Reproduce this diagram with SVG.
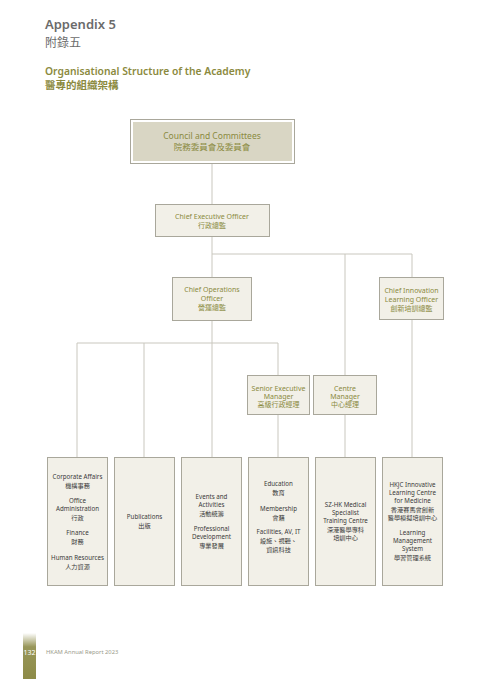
<svg xmlns="http://www.w3.org/2000/svg" width="480" height="679" viewBox="0 0 480 679">
<defs>
<style>
.t{font-family:"Noto Sans","Noto Sans CJK TC",sans-serif;text-anchor:middle}
.h{fill:#8a8a40;font-size:7px}
.b{fill:#3a3a3a;font-size:6.2px}
.box{fill:#f2f0e8;stroke:#a9a79b;stroke-width:1}
.ln{stroke:#c9c7be;stroke-width:1;fill:none}
</style>
<linearGradient id="fb" x1="0" y1="0" x2="0" y2="1">
<stop offset="0" stop-color="#8d8b47" stop-opacity="0"/>
<stop offset="0.3" stop-color="#8d8b47" stop-opacity="0.9"/>
<stop offset="1" stop-color="#8d8b47"/>
</linearGradient>
</defs>
<rect width="480" height="679" fill="#fff"/>
<g id="title">
<text x="45" y="29" font-family="Noto Sans,sans-serif" font-size="13" font-weight="600" fill="#6b6b6b">Appendix 5</text>
<text x="45" y="47" font-family="Noto Sans CJK TC,sans-serif" font-size="12" fill="#6b6b6b">附錄五</text>
<text x="45" y="75" font-family="Noto Sans,sans-serif" font-size="10.3" font-weight="600" fill="#8b8a3e">Organisational Structure of the Academy</text>
<text x="45" y="88.5" font-family="Noto Sans CJK TC,sans-serif" font-size="10.5" font-weight="600" fill="#8b8a3e">醫專的組織架構</text>
</g>
<g id="connectors">
<path class="ln" d="M212 164V204M212 236V277M212 254H412M345 254V375M412 254V277M412 320V457M212 321V457M77 343H278M77 343V457M144 343V457M278 343V375M278 414V457M345 414V457"/>
</g>
<g id="council">
<rect x="130.5" y="119.5" width="164" height="44" fill="#fff" stroke="#a9a79b"/>
<rect x="133" y="122" width="159" height="39" fill="#d9d6c4"/>
<text class="t" x="212" y="139" fill="#8a8a40" font-size="8.5">Council and Committees</text>
<text class="t" x="212" y="150" fill="#8a8a40" font-size="8.5">院務委員會及委員會</text>
</g>
<g id="ceo">
<rect class="box" x="155.5" y="204.5" width="114" height="32"/>
<text class="t h" x="212" y="218.5" font-size="7.5">Chief Executive Officer</text>
<text class="t h" x="212" y="228" font-size="7.5">行政總監</text>
</g>
<g id="coo">
<rect class="box" x="172.5" y="277.5" width="79" height="43"/>
<text class="t h" x="212" y="291.5">Chief Operations</text>
<text class="t h" x="212" y="300.5">Officer</text>
<text class="t h" x="212" y="310">營運總監</text>
</g>
<g id="cilo">
<rect class="box" x="379.5" y="277.5" width="64" height="42"/>
<text class="t h" x="411.5" y="292.5">Chief Innovation</text>
<text class="t h" x="411.5" y="301.5">Learning Officer</text>
<text class="t h" x="411.5" y="311">創新培訓總監</text>
</g>
<g id="sem">
<rect class="box" x="247.5" y="375.5" width="62" height="39"/>
<text class="t h" x="278.5" y="390.5">Senior Executive</text>
<text class="t h" x="278.5" y="398.5">Manager</text>
<text class="t h" x="278.5" y="407">高級行政經理</text>
</g>
<g id="cm">
<rect class="box" x="313.5" y="375.5" width="63" height="39"/>
<text class="t h" x="345" y="390.5">Centre</text>
<text class="t h" x="345" y="398.5">Manager</text>
<text class="t h" x="345" y="407">中心經理</text>
</g>
<g id="box1">
<rect class="box" x="47.5" y="457.5" width="60" height="128"/>
<text class="t b" x="77.5" y="479">Corporate Affairs</text>
<text class="t b" x="77.5" y="487.5">機構事務</text>
<text class="t b" x="77.5" y="503">Office</text>
<text class="t b" x="77.5" y="511">Administration</text>
<text class="t b" x="77.5" y="520">行政</text>
<text class="t b" x="77.5" y="535">Finance</text>
<text class="t b" x="77.5" y="543.5">財務</text>
<text class="t b" x="77.5" y="560">Human Resources</text>
<text class="t b" x="77.5" y="568.5">人力資源</text>
</g>
<g id="box2">
<rect class="box" x="114.5" y="457.5" width="60" height="128"/>
<text class="t b" x="144.5" y="519">Publications</text>
<text class="t b" x="144.5" y="527.5">出版</text>
</g>
<g id="box3">
<rect class="box" x="181.5" y="457.5" width="60" height="128"/>
<text class="t b" x="211.5" y="499">Events and</text>
<text class="t b" x="211.5" y="507">Activities</text>
<text class="t b" x="211.5" y="515.5">活動統籌</text>
<text class="t b" x="211.5" y="531">Professional</text>
<text class="t b" x="211.5" y="539">Development</text>
<text class="t b" x="211.5" y="547.5">專業發展</text>
</g>
<g id="box4">
<rect class="box" x="248.5" y="457.5" width="60" height="128"/>
<text class="t b" x="278.5" y="486">Education</text>
<text class="t b" x="278.5" y="495">教育</text>
<text class="t b" x="278.5" y="511">Membership</text>
<text class="t b" x="278.5" y="519.5">會籍</text>
<text class="t b" x="278.5" y="534">Facilities, AV, IT</text>
<text class="t b" x="278.5" y="543">設施、視聽、</text>
<text class="t b" x="278.5" y="551.5">資訊科技</text>
</g>
<g id="box5">
<rect class="box" x="315.5" y="457.5" width="60" height="128"/>
<text class="t b" x="345.5" y="507">SZ-HK Medical</text>
<text class="t b" x="345.5" y="515">Specialist</text>
<text class="t b" x="345.5" y="523">Training Centre</text>
<text class="t b" x="345.5" y="531.5">深港醫學專科</text>
<text class="t b" x="345.5" y="539.5">培訓中心</text>
</g>
<g id="box6">
<rect class="box" x="382.5" y="457.5" width="60" height="128"/>
<text class="t b" x="412.5" y="487">HKJC Innovative</text>
<text class="t b" x="412.5" y="495">Learning Centre</text>
<text class="t b" x="412.5" y="503">for Medicine</text>
<text class="t b" x="412.5" y="511.5">香港賽馬會創新</text>
<text class="t b" x="412.5" y="519.5">醫學模擬培訓中心</text>
<text class="t b" x="412.5" y="535">Learning</text>
<text class="t b" x="412.5" y="543">Management</text>
<text class="t b" x="412.5" y="551">System</text>
<text class="t b" x="412.5" y="559.5">學習管理系統</text>
</g>
<g id="footer">
<rect x="23" y="633" width="13" height="46" fill="url(#fb)"/>
<text x="29.5" y="654.5" font-family="Noto Sans,sans-serif" font-size="7" fill="#fff" text-anchor="middle">132</text>
<text x="46" y="654" font-family="Noto Sans,sans-serif" font-size="5.8" fill="#9a9a8a">HKAM Annual Report 2023</text>
</g>
</svg>
